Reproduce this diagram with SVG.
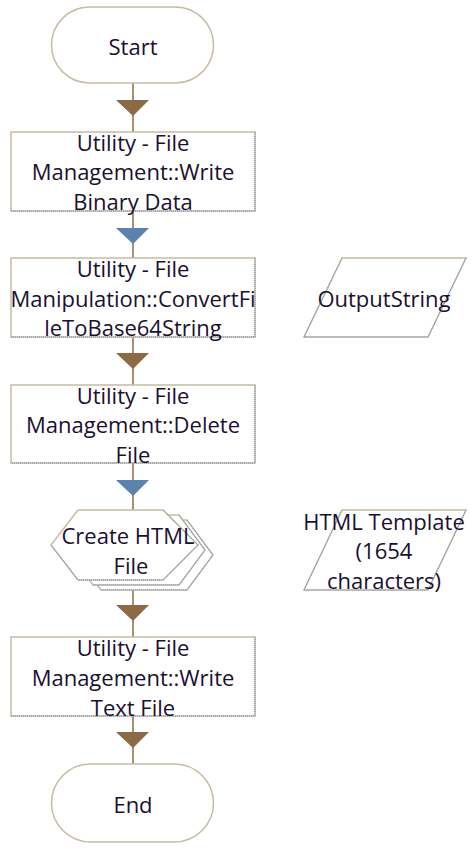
<svg xmlns="http://www.w3.org/2000/svg" width="476" height="855" viewBox="0 0 476 855">
<style>
.t{font-family:"Open Sans","Noto Sans","Liberation Sans",sans-serif;font-size:22px;fill:#1a1030;text-anchor:middle;dominant-baseline:central}
.tan{fill:#fff;stroke:#c8bba5;stroke-width:1.5}
.blu{fill:none;stroke:#6d8fb8;stroke-width:1;stroke-dasharray:1 1}
.ln{stroke:#8c6a45;stroke-width:1.5;fill:none}
.ab{fill:#8c6a45}
.aw{fill:#5b82ad}
</style>
<rect width="476" height="855" fill="#fff"/>
<g id="connectors">
<line class="ln" x1="133" y1="83" x2="133" y2="132"/>
<polygon class="ab" points="116,100 149,100 133,116"/>
<line class="ln" x1="133" y1="211" x2="133" y2="258"/>
<polygon class="aw" points="116,228 149,228 133,244"/>
<line class="ln" x1="133" y1="337" x2="133" y2="385"/>
<polygon class="ab" points="116,353 149,353 133,369"/>
<line class="ln" x1="133" y1="463" x2="133" y2="510"/>
<polygon class="aw" points="116,480 149,480 133,496"/>
<line class="ln" x1="133" y1="580" x2="133" y2="637"/>
<polygon class="ab" points="116,605 149,605 133,621"/>
<line class="ln" x1="133" y1="716" x2="133" y2="764"/>
<polygon class="ab" points="116,732 149,732 133,748"/>
</g>
<g id="start">
<rect class="tan" x="51.5" y="7" width="162" height="76" rx="38"/>
<text class="t" x="133" y="46">Start</text>
</g>
<g id="step1">
<rect class="tan" x="11" y="132" width="244" height="79"/>
<polyline class="blu" points="255,132 255,211 11,211"/>
<text class="t" x="133" y="142">Utility - File</text>
<text class="t" x="133" y="171">Management::Write</text>
<text class="t" x="133" y="201">Binary Data</text>
</g>
<g id="step2">
<rect class="tan" x="11" y="258" width="244" height="79"/>
<polyline class="blu" points="255,258 255,337 11,337"/>
<text class="t" x="133" y="268">Utility - File</text>
<text class="t" x="133" y="298">Manipulation::ConvertFi</text>
<text class="t" x="133" y="327">leToBase64String</text>
</g>
<g id="output">
<polygon class="tan" points="342,258 466,258 428,337 304,337"/>
<polyline class="blu" points="466,258 428,337 304,337 342,258"/>
<text class="t" x="384" y="298">OutputString</text>
</g>
<g id="step3">
<rect class="tan" x="11" y="385" width="244" height="78"/>
<polyline class="blu" points="255,385 255,463 11,463"/>
<text class="t" x="133" y="395">Utility - File</text>
<text class="t" x="133" y="424">Management::Delete</text>
<text class="t" x="133" y="454">File</text>
</g>
<g id="createhtml">
<polygon class="tan" points="101,520 187,520 213,555 187,590 101,590 75,555"/>
<polyline class="blu" points="187,520 213,555 187,590 101,590"/>
<polygon class="tan" points="93,515 179,515 205,550 179,585 93,585 67,550"/>
<polyline class="blu" points="179,515 205,550 179,585 93,585"/>
<polygon class="tan" points="78,510 163,510 198,545 163,580 78,580 51,545"/>
<polyline class="blu" points="163,510 198,545 163,580 78,580 51,545"/>
<text class="t" x="128" y="535">Create HTML</text>
<text class="t" x="131" y="565">File</text>
</g>
<g id="template">
<polygon class="tan" points="342,510 466,510 428,590 304,590"/>
<polyline class="blu" points="466,510 428,590 304,590 342,510"/>
<text class="t" x="384" y="521">HTML Template</text>
<text class="t" x="384" y="550">(1654</text>
<text class="t" x="384" y="580">characters)</text>
</g>
<g id="step4">
<rect class="tan" x="11" y="637" width="244" height="79"/>
<polyline class="blu" points="255,637 255,716 11,716"/>
<text class="t" x="133" y="647">Utility - File</text>
<text class="t" x="133" y="677">Management::Write</text>
<text class="t" x="133" y="707">Text File</text>
</g>
<g id="end">
<rect class="tan" x="51.5" y="764" width="162" height="78" rx="39"/>
<text class="t" x="133" y="804">End</text>
</g>
</svg>
